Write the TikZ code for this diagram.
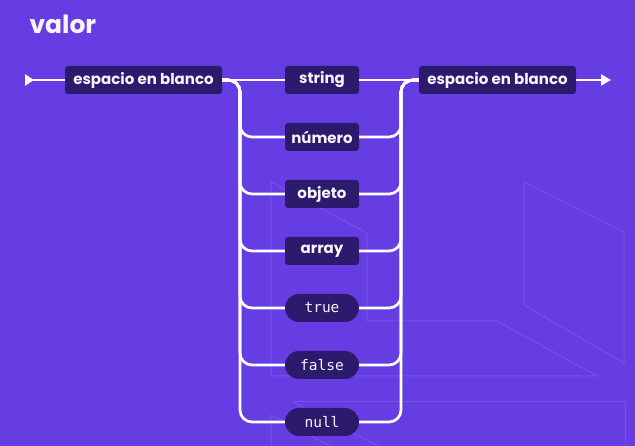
\documentclass[tikz,border=0pt]{standalone}
\usepackage{fontspec}
\setmainfont{Poppins}
\setmonofont{DejaVu Sans Mono}
\usepackage{tikz}
\usetikzlibrary{arrows.meta}
\definecolor{bgviolet}{RGB}{101,61,227}
\definecolor{boxviolet}{RGB}{44,26,108}
\definecolor{faintviolet}{RGB}{116,82,234}
\definecolor{chalk}{RGB}{246,244,252}
\tikzset{
  term/.style={fill=boxviolet, text=chalk, rounded corners=3pt, inner sep=0pt,
    minimum height=28pt, font=\fontsize{15}{17}\selectfont\bfseries},
  lit/.style={fill=boxviolet, text=chalk, rounded corners=14pt, inner sep=0pt,
    minimum height=28pt, minimum width=74pt, font=\fontsize{14.5}{17}\selectfont\ttfamily},
  wire/.style={draw=white, line width=2.7pt, rounded corners=12pt},
  deco/.style={draw=faintviolet, line width=1pt},
}

\begin{document}
\begin{tikzpicture}[x=1pt,y=-1pt]
% Background
\fill[bgviolet] (0,0) rectangle (635,446);
\useasboundingbox (0,0) rectangle (635,446);
% Faint shapes behind the diagram
\draw[deco] (524,182) -- (624,232) -- (624,363) -- (524,305) -- cycle;
\draw[deco] (271,182) -- (367,233) -- (367,321) -- (497,321) -- (597,376) -- (271,376) -- cycle;
\draw[deco] (293,402) -- (625,402) -- (625,446);
\draw[deco] (293,402) -- (378,446);
\draw[deco] (271,446) -- (271,415) -- (330,446);
% Title
\node[anchor=base west, text=chalk, font=\fontsize{25}{29}\selectfont\bfseries] (title) at (26,34) {valor};
% Whitespace boxes
\node[term, minimum width=157pt] (ws1) at (143.5,80) {espacio en blanco};
\node[term, minimum width=157pt] (ws2) at (497.5,80) {espacio en blanco};
% Value kinds
\node[term, minimum width=74pt] (str) at (322,80) {string};
\node[term, minimum width=74pt] (num) at (322,137) {número};
\node[term, minimum width=74pt] (obj) at (322,194) {objeto};
\node[term, minimum width=74pt] (arr) at (322,251) {array};
\node[lit] (tru) at (322,308) {true};
\node[lit] (fal) at (322,365) {false};
\node[lit] (nul) at (322,422) {null};
% Rails and ends
\coordinate (lrail) at (240,80);
\coordinate (rrail) at (401,80);
\coordinate (start) at (25,80);
\coordinate (stop) at (611,80);
%
% Main line
\draw[wire, {Triangle[reversed,length=9pt,width=11pt]}-] (start) -- (ws1.west);
\draw[wire] (ws1.east) -- (str.west);
\draw[wire] (str.east) -- (ws2.west);
\draw[wire, -{Triangle[length=10pt,width=11pt]}] (ws2.east) -- (stop);
% Left branches
\draw[wire] (ws1.east) -| (lrail |- num.west) -- (num.west);
\draw[wire] (ws1.east) -| (lrail |- obj.west) -- (obj.west);
\draw[wire] (ws1.east) -| (lrail |- arr.west) -- (arr.west);
\draw[wire] (ws1.east) -| (lrail |- tru.west) -- (tru.west);
\draw[wire] (ws1.east) -| (lrail |- fal.west) -- (fal.west);
\draw[wire] (ws1.east) -| (lrail |- nul.west) -- (nul.west);
% Right branches
\draw[wire] (num.east) -| (rrail) -- (ws2.west);
\draw[wire] (obj.east) -| (rrail) -- (ws2.west);
\draw[wire] (arr.east) -| (rrail) -- (ws2.west);
\draw[wire] (tru.east) -| (rrail) -- (ws2.west);
\draw[wire] (fal.east) -| (rrail) -- (ws2.west);
\draw[wire] (nul.east) -| (rrail) -- (ws2.west);
\end{tikzpicture}
\end{document}
